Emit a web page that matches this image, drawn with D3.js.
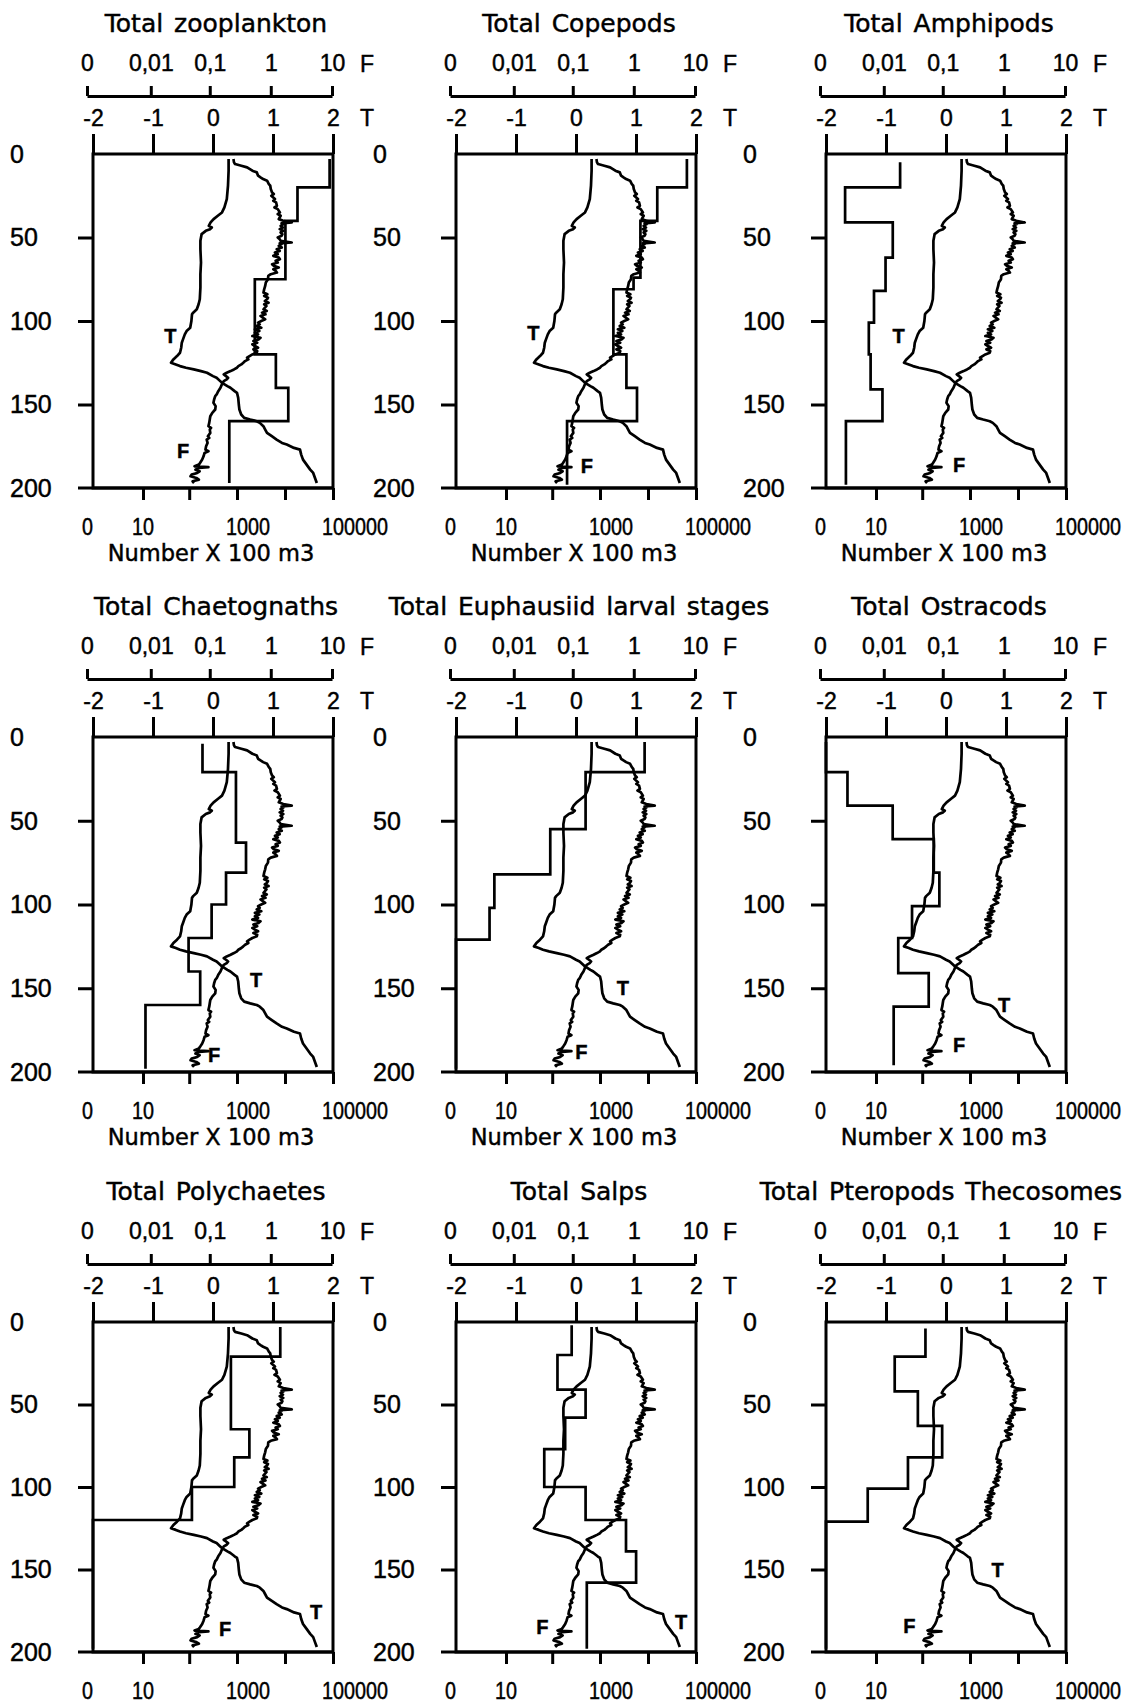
<!DOCTYPE html>
<html>
<head>
<meta charset="utf-8">
<script src="https://cdn.jsdelivr.net/npm/d3@7"></script>
<style>
  body { margin: 0; background: #fff; }
  text { font-family: "DejaVu Sans", sans-serif; fill: #000; stroke: #000; stroke-width: 0.45px; }
  text.num { font-family: "Liberation Sans", Arial, sans-serif; }
  text.title { word-spacing: 3px; }
</style>
</head>
<body>
<svg id="chart" width="1134" height="1704"></svg>
<script>
// ---- Panel titles -------------------------------------------------------
const titles = [
  "Total zooplankton", "Total Copepods", "Total Amphipods",
  "Total Chaetognaths", "Total Euphausiid larval stages", "Total Ostracods",
  "Total Polychaetes", "Total Salps", "Total Pteropods Thecosomes"
];

// ---- Tick values and labels ----------------------------------------------
const depthTicks = [0, 50, 100, 150, 200];
const tempTicks = [-2, -1, 0, 1, 2];
const fluoTicks = [0, 0.01, 0.1, 1, 10];
const fluoTickLabels = ["0", "0,01", "0,1", "1", "10"];
const abundanceTicks = [10, 100, 1000, 10000, 100000];
const abundanceLabelValues = [0, 10, 1000, 100000];
const abundanceLabels = ["0", "10", "1000", "100000"];

// ---- CTD cast: temperature (°C) against depth (m) ------------------------
const tempDepth = [3, 10, 19, 27, 32, 35, 37, 39, 41, 43, 44, 45, 46, 48, 52, 57, 65, 72, 80, 87, 90, 93, 95, 96,
  100, 104, 106, 108, 111, 113, 116, 119, 121, 123, 125, 126, 127, 128, 129, 130, 131, 133, 134, 136, 137,
  139, 140, 142, 143, 146, 150, 153, 156, 158, 159, 160, 161, 163, 165, 167, 169, 171, 173, 174, 176, 177,
  180, 183, 186, 189, 191, 194, 197];
const tempValue = [0.26, 0.26, 0.25, 0.23, 0.19, 0.15, 0.08, 0.01, -0.04, -0.07, -0.02, -0.05, -0.12, -0.19,
  -0.21, -0.21, -0.20, -0.21, -0.21, -0.22, -0.24, -0.27, -0.33, -0.35, -0.36, -0.38, -0.44, -0.47, -0.50,
  -0.52, -0.53, -0.55, -0.60, -0.66, -0.70, -0.62, -0.55, -0.45, -0.32, -0.20, -0.10, 0.00, 0.06, 0.12, 0.15,
  0.24, 0.29, 0.36, 0.40, 0.42, 0.43, 0.44, 0.47, 0.52, 0.62, 0.73, 0.78, 0.84, 0.87, 0.90, 0.98, 1.06, 1.15,
  1.23, 1.35, 1.45, 1.47, 1.50, 1.56, 1.62, 1.67, 1.70, 1.73];

// ---- CTD cast: fluorescence against depth (m) ----------------------------
const fluoDepth = [3, 5, 6, 7, 8, 10, 11, 13, 14, 15, 16, 18, 19, 21, 23, 24, 25, 27, 28, 29, 31, 32, 33, 35, 36,
  37, 39, 40, 41, 41.5, 42, 43, 44, 45, 46, 47, 48, 49, 50, 51, 52, 53, 53.5, 54, 55, 56, 57, 58, 59, 60, 61, 62,
  63, 64, 65, 66, 67, 68, 69, 70, 71, 72, 73, 75, 77, 79, 81, 83, 84, 85, 86, 87, 88, 89, 90, 91, 93, 94, 95,
  96, 97, 99, 100, 101, 102, 103, 104, 105, 106, 107, 108, 109, 110, 111, 112, 113, 114, 115, 116, 117, 118,
  119, 120, 121, 122, 123, 124, 125, 126, 127, 128, 129, 130, 131, 132, 133, 134, 135, 136, 138, 140, 142,
  144, 145, 147, 149, 150, 151, 153, 155, 157, 159, 161, 163, 164, 165, 167, 169, 170, 171, 173, 175, 177,
  178, 179, 181, 183, 185, 186, 187, 187.5, 188, 189, 190, 191, 192, 193, 194, 195, 196, 197];
const fluoValue = [0.245, 0.25, 0.26, 0.33, 0.41, 0.5, 0.59, 0.62, 0.68, 0.75, 0.87, 0.93, 0.98, 1.0, 1.05,
  1.12, 1.02, 1.17, 1.1, 1.22, 1.26, 1.15, 1.3, 1.41, 1.3, 1.45, 1.35, 1.6, 2.2, 1.5, 1.62, 1.45, 1.58, 1.4,
  1.6, 1.45, 1.55, 1.5, 1.3, 1.4, 1.45, 2.2, 1.4, 1.5, 1.35, 1.51, 1.25, 1.4, 1.17, 1.3, 1.1, 1.35, 1.41, 1.2,
  1.3, 1.05, 1.12, 1.35, 1.1, 1.2, 1.26, 1.0, 0.91, 0.9, 0.83, 0.81, 0.78, 0.76, 0.88, 0.78, 0.9, 0.87, 0.8,
  0.92, 0.78, 0.85, 0.76, 0.86, 0.72, 0.82, 0.68, 0.81, 0.7, 0.62, 0.66, 0.59, 0.7, 0.55, 0.65, 0.55, 0.62,
  0.5, 0.68, 0.63, 0.52, 0.6, 0.5, 0.55, 0.62, 0.52, 0.6, 0.59, 0.5, 0.45, 0.41, 0.43, 0.38, 0.355, 0.33,
  0.295, 0.28, 0.25, 0.22, 0.19, 0.17, 0.185, 0.2, 0.19, 0.17, 0.158, 0.15, 0.138, 0.13, 0.123, 0.118, 0.115,
  0.12, 0.125, 0.123, 0.11, 0.102, 0.1, 0.098, 0.095, 0.105, 0.1, 0.102, 0.093, 0.098, 0.089, 0.092, 0.087,
  0.085, 0.095, 0.082, 0.079, 0.075, 0.069, 0.066, 0.056, 0.095, 0.066, 0.058, 0.068, 0.062, 0.05, 0.048,
  0.06, 0.066, 0.052, 0.055];

// ---- Net hauls: layer boundaries (m) and abundance (Number x 100 m3) -----
const zooplanktonLayers = [3, 20, 40, 75, 120, 140, 160, 197];
const zooplanktonCounts = [85000, 18200, 10200, 2350, 6450, 11700, 690];
const copepodLayers = [3, 20, 40, 74, 81, 120, 140, 160, 198];
const copepodCounts = [64600, 15600, 6950, 5000, 1900, 3550, 5900, 205];
const amphipodLayers = [5, 20, 41, 62, 82, 101, 120, 141, 160, 198];
const amphipodCounts = [34, 1.5, 23.6, 16.4, 9, 6.8, 7.5, 14, 1.6];
const chaetognathLayers = [4, 21, 63, 81, 100, 120, 140, 160, 198];
const chaetognathCounts = [190, 950, 1540, 590, 295, 97, 170, 11.4];
const euphausiidLayers = [3, 21, 55, 82, 102, 121, 198];
const euphausiidCounts = [8500, 500, 91, 5.3, 4, 0];
const ostracodLayers = [3, 21, 41, 61, 81, 101, 120, 141, 161, 196];
const ostracodCounts = [0, 1.8, 23.5, 175, 229, 61, 31, 137, 24.7];
const polychaeteLayers = [3, 21, 65, 82, 100, 120, 198];
const polychaeteCounts = [7970, 745, 1810, 875, 114, 0];
const salpLayers = [2, 20, 41, 58, 77, 100, 120, 139, 158, 198];
const salpCounts = [256, 129, 500, 187, 68, 500, 3480, 5650, 530];
const pteropodLayers = [4, 21, 42, 63, 82, 101, 121, 198];
const pteropodCounts = [117, 26, 81, 262, 50, 6.4, 0];

const layerSets = [zooplanktonLayers, copepodLayers, amphipodLayers, chaetognathLayers, euphausiidLayers,
  ostracodLayers, polychaeteLayers, salpLayers, pteropodLayers];
const countSets = [zooplanktonCounts, copepodCounts, amphipodCounts, chaetognathCounts, euphausiidCounts,
  ostracodCounts, polychaeteCounts, salpCounts, pteropodCounts];

// Where the "T" and "F" curve labels sit in each panel (temperature units, depth)
const tLabelTemp = [-0.71, -0.71, -0.79, 0.72, 0.78, 0.97, 1.72, 1.75, 0.86];
const tLabelDepth = [109, 107, 109, 145, 150, 160, 176, 182, 150];
const fLabelTemp = [-0.5, 0.18, 0.22, 0.02, 0.09, 0.22, 0.2, -0.56, -0.61];
const fLabelDepth = [178, 187, 186, 190, 188, 184, 186, 185, 184];

// ---- Layout --------------------------------------------------------------
const W = 1134, H = 1704;
const colLefts = [93, 456, 826];
const rowTops = [154, 737, 1322];
const rowHeights = [334, 335, 330];
const plotW = 240;
const AXIS_W = 3;
const LINE_W = 2.7;

const svg = d3.select("#chart");

function styleAxis(sel, size) {
  sel.attr("font-family", null).attr("font-size", size);
  sel.selectAll("line").attr("stroke", "#000").attr("stroke-width", AXIS_W);
  sel.selectAll("path").attr("stroke", "#000").attr("stroke-width", AXIS_W);
  sel.selectAll("text").attr("class", "num").attr("fill", "#000");
}

titles.forEach((title, i) => {
  const col = i % 3, row = Math.floor(i / 3);
  const left = colLefts[col], top = rowTops[row], h = rowHeights[row];
  const right = left + plotW, bottom = top + h;
  const g = svg.append("g");

  const y = d3.scaleLinear().domain([0, 200]).range([top, bottom]);
  const xT = d3.scaleLinear().domain([-2, 2]).range([left, right]);
  const xF = d3.scaleSymlog().constant(0.001).domain([0, 10]).range([left - 6, right - 1]);
  const xN = d3.scaleSymlog().constant(1).domain([0, 100000]).range([left, right]);

  // Title
  const t = g.append("text").attr("class", "title").attr("y", top - 131).attr("dy", "0.35em")
    .attr("text-anchor", "middle").attr("font-size", 25).text(title);
  let cx = left + plotW / 2 + 3;
  const tw = t.node().getComputedTextLength();
  if (cx + tw / 2 > W - 12) cx = W - 12 - tw / 2;
  t.attr("x", cx);

  // Fluorescence axis (log) on top
  g.append("g").attr("transform", `translate(0,${top - 58})`)
    .call(d3.axisTop(xF).tickValues(fluoTicks).tickSize(10).tickSizeOuter(0).tickPadding(15)
      .tickFormat((d, k) => fluoTickLabels[k]))
    .call(s => styleAxis(s, 23));
  g.append("text").attr("x", right + 34).attr("y", top - 90).attr("dy", "0.35em")
    .attr("class", "num").attr("text-anchor", "middle").attr("font-size", 23).text("F");

  // Temperature axis along the top of the frame
  g.append("g").attr("transform", `translate(0,${top})`)
    .call(d3.axisTop(xT).tickValues(tempTicks).tickSize(20).tickPadding(8).tickFormat(d => String(d)))
    .call(s => s.select(".domain").remove())
    .call(s => styleAxis(s, 23));
  g.append("text").attr("x", right + 34).attr("y", top - 36).attr("dy", "0.35em")
    .attr("class", "num").attr("text-anchor", "middle").attr("font-size", 23).text("T");

  // Depth axis
  g.append("g").attr("transform", `translate(${left},0)`)
    .call(d3.axisLeft(y).tickValues([50, 100, 150]).tickSize(15).tickFormat(""))
    .call(s => s.select(".domain").remove())
    .call(s => styleAxis(s, 23));
  g.selectAll(".depthLabel").data(depthTicks).join("text")
    .attr("class", "num depthLabel")
    .attr("x", left - 83).attr("y", d => y(d)).attr("dy", "0.35em")
    .attr("font-size", 25).text(d => d);

  // Abundance axis (log) at the bottom
  g.append("g").attr("transform", `translate(0,${bottom})`)
    .call(d3.axisBottom(xN).tickValues(abundanceTicks).tickSize(12).tickFormat(""))
    .call(s => s.select(".domain").remove())
    .call(s => styleAxis(s, 23));
  g.append("line").attr("x1", left - 15).attr("x2", right).attr("y1", bottom).attr("y2", bottom)
    .attr("stroke", "#000").attr("stroke-width", AXIS_W);
  g.selectAll(".nLabel").data(abundanceLabelValues).join("text")
    .attr("class", "num nLabel")
    .attr("x", d => xN(d) - 11).attr("y", bottom + 39).attr("dy", "0.35em")
    .attr("font-size", 24)
    .attr("textLength", (d, k) => abundanceLabels[k].length * 11)
    .attr("lengthAdjust", "spacingAndGlyphs")
    .text((d, k) => abundanceLabels[k]);
  if (bottom + 72 < H) {
    g.append("text").attr("x", left + plotW / 2 - 2).attr("y", bottom + 65).attr("dy", "0.35em")
      .attr("text-anchor", "middle").attr("font-size", 22.5).text("Number X 100 m3");
  }

  // Frame
  g.append("rect").attr("x", left).attr("y", top).attr("width", plotW).attr("height", h)
    .attr("fill", "none").attr("stroke", "#000").attr("stroke-width", AXIS_W);

  const lineStyle = p => p.attr("fill", "none").attr("stroke", "#000").attr("stroke-width", LINE_W)
    .attr("stroke-linejoin", "round");

  // Temperature profile
  g.append("path")
    .datum(tempDepth.map((d, k) => [d, tempValue[k]]))
    .call(lineStyle)
    .attr("d", d3.line().x(d => xT(d[1])).y(d => y(d[0])));

  // Fluorescence profile
  g.append("path")
    .datum(fluoDepth.map((d, k) => [d, fluoValue[k]]))
    .call(lineStyle)
    .attr("d", d3.line().x(d => xF(d[1])).y(d => y(d[0])));

  // Abundance step profile
  const layers = layerSets[i], counts = countSets[i];
  const steps = [];
  counts.forEach((c, k) => { steps.push([layers[k], c]); steps.push([layers[k + 1], c]); });
  g.append("path")
    .datum(steps)
    .call(lineStyle).attr("stroke-linejoin", "miter")
    .attr("d", d3.line().x(d => xN(d[1])).y(d => y(d[0])));

  // Curve labels
  g.append("text").attr("class", "num").attr("x", xT(tLabelTemp[i])).attr("y", y(tLabelDepth[i]))
    .attr("dy", "0.35em").attr("text-anchor", "middle").attr("font-size", 20).attr("font-weight", "bold").text("T");
  g.append("text").attr("class", "num").attr("x", xT(fLabelTemp[i])).attr("y", y(fLabelDepth[i]))
    .attr("dy", "0.35em").attr("text-anchor", "middle").attr("font-size", 20).attr("font-weight", "bold").text("F");
});
</script>
</body>
</html>
